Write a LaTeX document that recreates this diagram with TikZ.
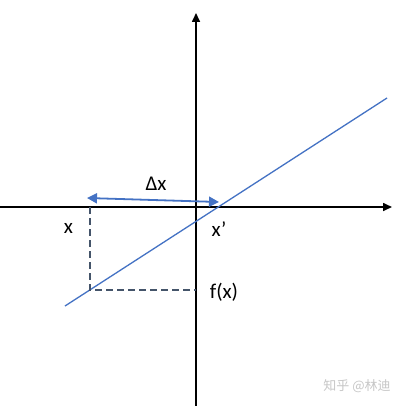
\documentclass[tikz,border=0pt]{standalone}
\usepackage{fontspec}
\setmainfont{Carlito}
\newfontfamily\cjk{Noto Sans CJK SC}
\usetikzlibrary{arrows.meta}
\definecolor{lineblue}{HTML}{4472C4}
\definecolor{dashslate}{HTML}{44546A}
\tikzset{
  axis/.style={line width=1.6pt, -{Triangle[length=9pt,width=8pt]}},
  fline/.style={lineblue, line width=1.3pt},
  guide/.style={dashslate, line width=1.2pt, dash pattern=on 7pt off 4pt},
  delta/.style={lineblue, line width=1.8pt, {Triangle[length=10pt,width=10pt]}-{Triangle[length=10pt,width=10pt]}},
  lab/.style={font=\fontsize{21}{24}\selectfont, inner sep=0pt}
}
\begin{document}
\begin{tikzpicture}[x=1pt,y=-1pt]
\useasboundingbox (0,0) rectangle (406,406);
\fill[white] (0,0) rectangle (406,406);
% axes
\coordinate (hstart) at (0,207);
\coordinate (hend) at (392,207);
\coordinate (vstart) at (196,406);
\coordinate (vend) at (196,13);
\draw[axis] (hstart) -- (hend);
\draw[axis] (vstart) -- (vend);
% function line
\coordinate (lstart) at (65,306);
\coordinate (lend) at (387,98);
\draw[fline] (lstart) -- (lend);
% guides
\coordinate (xa) at (90,207);
\coordinate (xp) at (90,290);
\coordinate (fy) at (196,290);
\draw[guide] (xa) -- (xp) -- (fy);
% delta x arrow
\coordinate (dl) at (87,198);
\coordinate (dr) at (219,202);
\draw[delta] (dl) -- (dr);
% labels
\node[lab] (dxlab) at (156,184) {Δx};
\node[lab] (xlab) at (68.5,228) {x};
\node[lab] (xplab) at (219,229) {x’};
\node[lab] (fxlab) at (224,292) {f(x)};
\node[inner sep=0pt, text=black!22, font=\cjk\fontsize{13}{15}\selectfont] (wm) at (357,386) {知乎 @林迪};
\end{tikzpicture}
\end{document}
